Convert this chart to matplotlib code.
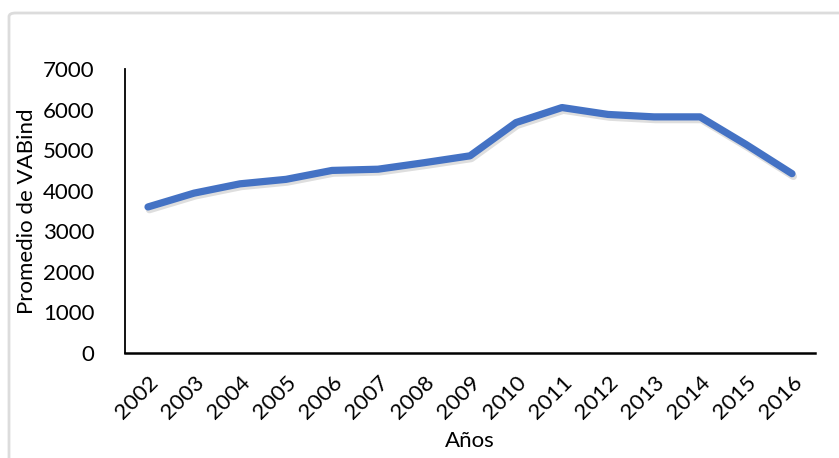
import matplotlib
matplotlib.use("Agg")
import matplotlib.pyplot as plt
import matplotlib.patheffects as pe
from matplotlib.patches import FancyBboxPatch

# --- datos ---
anios = ["2002", "2003", "2004", "2005", "2006", "2007", "2008", "2009",
         "2010", "2011", "2012", "2013", "2014", "2015", "2016"]
vab_promedio = [3600, 3940, 4170, 4280, 4500, 4530, 4690, 4860,
                5680, 6050, 5880, 5820, 5820, 5140, 4420]
y_ticks = [0, 1000, 2000, 3000, 4000, 5000, 6000, 7000]

plt.rcParams['font.family'] = ['Lato', 'DejaVu Sans']

fig = plt.figure(figsize=(8.39, 4.58), dpi=100)

# marco gris del grafico
marco = FancyBboxPatch((9 / 839, -0.05), 1.0, 1 - 13 / 458 + 0.05,
                       boxstyle="round,pad=0,rounding_size=0.008",
                       transform=fig.transFigure, fill=False,
                       edgecolor="#dcdcdc", linewidth=2)
fig.patches.append(marco)

ax = fig.add_axes([125 / 839, 1 - 353 / 458, 690 / 839, (353 - 69) / 458])

x = list(range(len(anios)))
ax.plot(x, vab_promedio, color="#4472C4", linewidth=5.2,
        solid_joinstyle="round", solid_capstyle="round",
        path_effects=[pe.SimpleLineShadow(offset=(1, -2), shadow_color="black", alpha=0.13),
                      pe.Normal()])

ax.set_xlim(-0.5, len(anios) - 0.5)
ax.set_ylim(0, 7000)
ax.set_yticks(y_ticks)
ax.set_yticklabels([str(v) for v in y_ticks], fontsize=16)
ax.set_xticks(x)
ax.set_xticklabels(anios, fontsize=16, rotation=45, ha="right",
                   rotation_mode="anchor")
ax.tick_params(axis="both", length=0)
ax.tick_params(axis="y", pad=22)
ax.tick_params(axis="x", pad=14)

for lado in ["top", "right"]:
    ax.spines[lado].set_visible(False)
ax.spines["left"].set_linewidth(1.3)
ax.spines["bottom"].set_linewidth(1.8)

ax.set_ylabel("Promedio de VABind", fontsize=16, labelpad=4)
ax.set_xlabel("Años", fontsize=16, labelpad=6)

plt.savefig("out.png", dpi=100)
